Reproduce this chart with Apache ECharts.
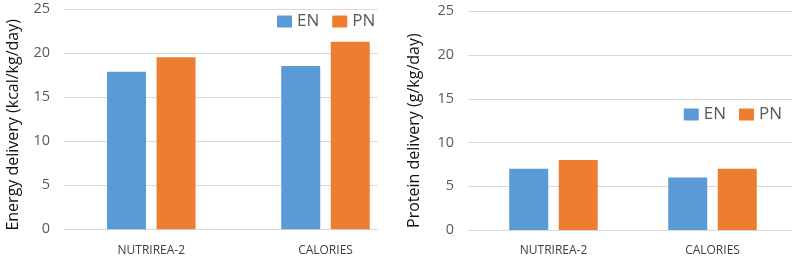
<!DOCTYPE html>
<html><head><meta charset="utf-8">
<script src="https://cdn.jsdelivr.net/npm/echarts@6/dist/echarts.min.js"></script>
<style>html,body{margin:0;padding:0;background:#fff}#c{width:792px;height:258px}</style>
</head><body><div id="c"></div>
<script>
const categories = ['NUTRIREA-2', 'CALORIES'];
const seriesNames = ['EN', 'PN'];
const energyEN = [17.9, 18.55];
const energyPN = [19.55, 21.3];
const proteinEN = [7, 6];
const proteinPN = [8, 7];
const yTicks = [0, 5, 10, 15, 20, 25];
const energyTitle = 'Energy delivery (kcal/kg/day)';
const proteinTitle = 'Protein delivery (g/kg/day)';

const FONT = '"Open Sans", sans-serif';
const colors = ['#5B9BD5', '#ED7D31'];
const yMin = yTicks[0], yMax = yTicks[yTicks.length - 1], yInt = yTicks[1] - yTicks[0];

const chart = echarts.init(document.getElementById('c'), null, {renderer: 'canvas'});

function gridYAxis(gridIndex, name, nameGap, shift) {
  return {
    type: 'value', gridIndex, min: yMin, max: yMax, interval: yInt,
    axisLine: {show: false}, axisTick: {show: false},
    axisLabel: {color: '#595959', fontSize: 14.5, fontFamily: FONT, margin: 14},
    splitLine: {lineStyle: {color: '#D9D9D9', width: 1}},
    name, nameLocation: 'middle', nameGap, nameRotate: 90,
    nameTextStyle: {color: '#111', fontSize: 16, fontFamily: FONT, padding: [0, shift, 0, 0]}
  };
}
function barYAxis(gridIndex) {
  return {type: 'value', gridIndex, min: yMin, max: yMax, interval: yInt, show: false, splitLine: {show: false}};
}
function hiddenX(gridIndex) {
  return {type: 'category', gridIndex, data: categories, show: false};
}
function barX(gridIndex) {
  return {
    type: 'category', gridIndex, data: categories,
    axisLine: {show: false}, axisTick: {show: false},
    axisLabel: {color: '#404040', fontSize: 12, fontFamily: FONT, margin: 15}
  };
}
function bar(name, data, idx, axisIdx) {
  return {
    type: 'bar', name, data, xAxisIndex: axisIdx, yAxisIndex: axisIdx,
    barWidth: 39, barGap: '27%', itemStyle: {color: colors[idx]}, silent: true
  };
}
const legendBase = {
  data: seriesNames, orient: 'horizontal', padding: 0, itemWidth: 15, itemHeight: 12, itemGap: 13,
  textStyle: {fontSize: 17, color: '#595959', fontFamily: FONT}, icon: 'rect', selectedMode: false
};

chart.setOption({
  animation: false,
  textStyle: {fontFamily: FONT},
  grid: [
    {left: 64, top: 9.3, width: 314, height: 220},
    {left: 64.2, top: 9.3, width: 348.4, height: 220},
    {left: 468, top: 11.3, width: 324, height: 218.7},
    {left: 474, top: 11.3, width: 346, height: 218.7}
  ],
  xAxis: [hiddenX(0), barX(1), hiddenX(2), barX(3)],
  yAxis: [gridYAxis(0, energyTitle, 43, 11), barYAxis(1), gridYAxis(2, proteinTitle, 46, 20), barYAxis(3)],
  legend: [
    Object.assign({}, legendBase, {left: 277, top: 13}),
    Object.assign({}, legendBase, {right: 10, top: 106})
  ],
  series: [
    bar(seriesNames[0], energyEN, 0, 1),
    bar(seriesNames[1], energyPN, 1, 1),
    bar(seriesNames[0], proteinEN, 0, 3),
    bar(seriesNames[1], proteinPN, 1, 3)
  ]
});
</script></body></html>
